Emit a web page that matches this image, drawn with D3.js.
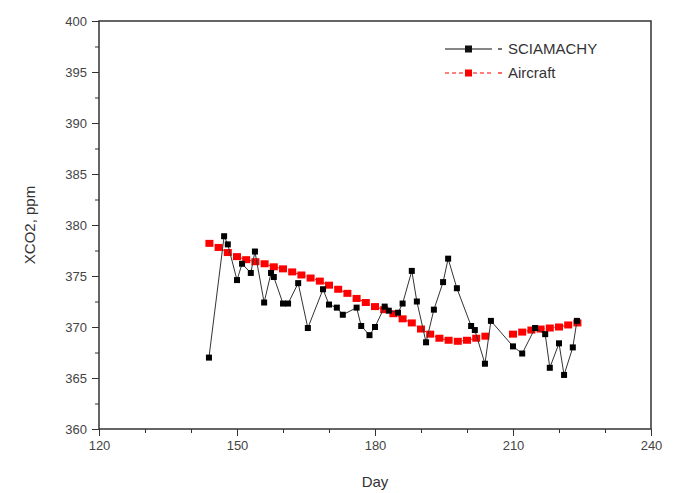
<!DOCTYPE html>
<html>
<head>
<meta charset="utf-8">
<script src="https://cdn.jsdelivr.net/npm/d3@7"></script>
<style>
  html, body { margin: 0; padding: 0; background: #fff; }
  svg { display: block; }
</style>
</head>
<body>
<svg id="chart"></svg>
<script>
// SCIAMACHY retrievals (day, ppm)
const sciaDays = [143.9, 147.2, 148.0, 150.0, 151.1, 153.0, 153.9, 155.9, 157.4, 158.0,
  160.0, 161.1, 163.3, 165.4, 168.7, 170.0, 171.7, 173.0, 176.0, 177.0,
  178.8, 180.0, 182.1, 183.0, 185.0, 186.0, 188.0, 189.1, 191.1, 192.8,
  194.8, 195.9, 197.8, 200.9, 201.7, 203.9, 205.2, 210.0, 212.0, 214.8,
  217.0, 218.0, 220.0, 221.1, 223.0, 223.9];
const sciaValues = [367.0, 378.9, 378.1, 374.6, 376.2, 375.3, 377.4, 372.4, 375.3, 374.9,
  372.3, 372.3, 374.3, 369.9, 373.7, 372.2, 371.9, 371.2, 371.9, 370.1,
  369.2, 370.0, 372.0, 371.6, 371.4, 372.3, 375.5, 372.5, 368.5, 371.7,
  374.4, 376.7, 373.8, 370.1, 369.7, 366.4, 370.6, 368.1, 367.4, 369.9,
  369.3, 366.0, 368.4, 365.3, 368.0, 370.6];

// Aircraft profile (null = gap in record)
const airDays = [144, 146, 148, 150, 152, 154, 156, 158, 160, 162,
  164, 166, 168, 170, 172, 174, 176, 178, 180, 182,
  184, 186, 188, 190, 192, 194, 196, 198, 200, 202,
  204, 207, 210, 212, 214, 216, 218, 220, 222, 224];
const airValues = [378.2, 377.8, 377.3, 376.9, 376.6, 376.4, 376.2, 375.9, 375.7, 375.4,
  375.1, 374.8, 374.5, 374.1, 373.7, 373.3, 372.8, 372.4, 372.0, 371.7,
  371.3, 370.8, 370.4, 369.8, 369.3, 368.9, 368.7, 368.6, 368.7, 368.9,
  369.1, null, 369.3, 369.5, 369.7, 369.8, 369.9, 370.0, 370.2, 370.4];

const xTicks = [120, 150, 180, 210, 240];
const yTicks = [360, 365, 370, 375, 380, 385, 390, 395, 400];
const xMinor = [130, 140, 160, 170, 190, 200, 220, 230];
const yMinor = [362.5, 367.5, 372.5, 377.5, 382.5, 387.5, 392.5, 397.5];
const seriesNames = ["SCIAMACHY", "Aircraft"];

const width = 676, height = 493;
const margin = { top: 21, right: 25, bottom: 64, left: 99 };
const innerWidth = width - margin.left - margin.right;
const innerHeight = height - margin.top - margin.bottom;
const FONT = "Liberation Sans, Arial, sans-serif";

const svg = d3.select("#chart").attr("width", width).attr("height", height);
const g = svg.append("g").attr("transform", `translate(${margin.left},${margin.top})`);

const x = d3.scaleLinear().domain([120, 240]).range([0, innerWidth]);
const y = d3.scaleLinear().domain([360, 400]).range([innerHeight, 0]);

// frame
g.append("rect")
  .attr("width", innerWidth).attr("height", innerHeight)
  .attr("fill", "none").attr("stroke", "#333").attr("stroke-width", 1.5);

// minor ticks
g.append("g")
  .attr("transform", `translate(0,${innerHeight})`)
  .call(d3.axisBottom(x).tickValues(xMinor).tickSize(4).tickFormat(""))
  .call(a => a.select(".domain").remove())
  .call(a => a.selectAll("text").remove())
  .call(a => a.selectAll("line").attr("stroke", "#333"));
g.append("g")
  .call(d3.axisLeft(y).tickValues(yMinor).tickSize(4).tickFormat(""))
  .call(a => a.select(".domain").remove())
  .call(a => a.selectAll("text").remove())
  .call(a => a.selectAll("line").attr("stroke", "#333"));

// major ticks
g.append("g")
  .attr("transform", `translate(0,${innerHeight})`)
  .call(d3.axisBottom(x).tickValues(xTicks).tickSize(7).tickPadding(5))
  .call(a => a.select(".domain").remove())
  .call(a => a.selectAll("line").attr("stroke", "#333"))
  .call(a => a.selectAll("text").attr("font-family", FONT).attr("font-size", 13).attr("fill", "#444"));
g.append("g")
  .call(d3.axisLeft(y).tickValues(yTicks).tickSize(7).tickPadding(5))
  .call(a => a.select(".domain").remove())
  .call(a => a.selectAll("line").attr("stroke", "#333"))
  .call(a => a.selectAll("text").attr("font-family", FONT).attr("font-size", 13).attr("fill", "#444"));

// axis labels
g.append("text")
  .attr("x", innerWidth / 2).attr("y", innerHeight + 58)
  .attr("text-anchor", "middle")
  .attr("font-family", FONT).attr("font-size", 15).attr("fill", "#333")
  .text("Day");
g.append("text")
  .attr("transform", `translate(-64,${innerHeight / 2}) rotate(-90)`)
  .attr("text-anchor", "middle")
  .attr("font-family", FONT).attr("font-size", 15).attr("fill", "#333")
  .text("XCO2, ppm");

// aircraft
const air = airDays.map((d, i) => ({ day: d, v: airValues[i] }));
g.append("path")
  .datum(air)
  .attr("fill", "none").attr("stroke", "#f00").attr("stroke-width", 1)
  .attr("stroke-dasharray", "4 3")
  .attr("d", d3.line().defined(d => d.v != null).x(d => x(d.day)).y(d => y(d.v)));
g.selectAll("rect.air")
  .data(air.filter(d => d.v != null))
  .join("rect")
  .attr("class", "air")
  .attr("x", d => x(d.day) - 4).attr("y", d => y(d.v) - 3.5)
  .attr("width", 8).attr("height", 7)
  .attr("fill", "#f00");

// SCIAMACHY
const scia = sciaDays.map((d, i) => ({ day: d, v: sciaValues[i] }));
g.append("path")
  .datum(scia)
  .attr("fill", "none").attr("stroke", "#333").attr("stroke-width", 1)
  .attr("d", d3.line().x(d => x(d.day)).y(d => y(d.v)));
g.selectAll("rect.scia")
  .data(scia)
  .join("rect")
  .attr("class", "scia")
  .attr("x", d => x(d.day) - 3).attr("y", d => y(d.v) - 3)
  .attr("width", 6).attr("height", 6)
  .attr("fill", "#000");

// legend
const legend = svg.append("g").attr("transform", "translate(445,49)");
[0, 1].forEach(i => {
  const row = legend.append("g").attr("transform", `translate(0,${i * 24})`);
  const col = i === 0 ? "#111" : "#f00";
  row.append("line")
    .attr("x1", 0).attr("x2", 47).attr("y1", 0).attr("y2", 0)
    .attr("stroke", col).attr("stroke-width", 1.2)
    .attr("stroke-dasharray", i === 0 ? null : "4 3");
  row.append("rect")
    .attr("x", 20).attr("y", -3.5).attr("width", 7).attr("height", 7)
    .attr("fill", col);
  row.append("line")
    .attr("x1", 53).attr("x2", 57).attr("y1", 0).attr("y2", 0)
    .attr("stroke", col).attr("stroke-width", 1.2);
  row.append("text")
    .attr("x", 63).attr("y", 5)
    .attr("font-family", FONT).attr("font-size", 15).attr("fill", "#333")
    .text(seriesNames[i]);
});
</script>
</body>
</html>
